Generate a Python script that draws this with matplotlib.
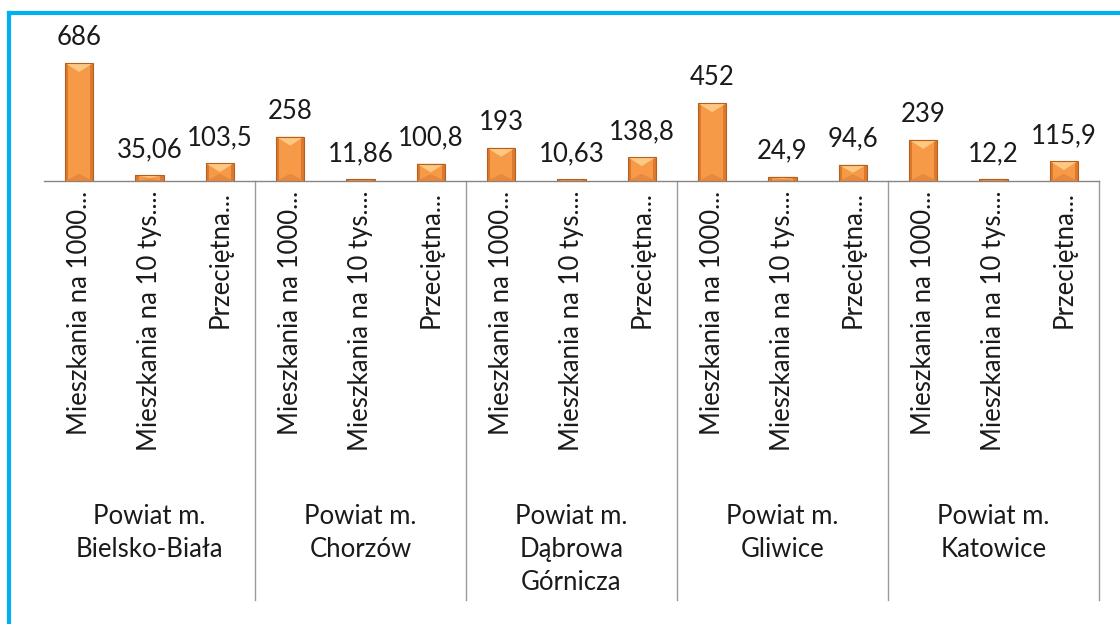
import matplotlib.pyplot as plt
import numpy as np
from matplotlib.patches import Polygon, Rectangle
from matplotlib.transforms import blended_transform_factory

plt.rcParams['font.family'] = ['Lato', 'DejaVu Sans']

groups = ['Powiat m.\nBielsko-Biała', 'Powiat m.\nChorzów', 'Powiat m.\nDąbrowa\nGórnicza',
          'Powiat m.\nGliwice', 'Powiat m.\nKatowice']
categories = ['Mieszkania na 1000...', 'Mieszkania na 10 tys....', 'Przeciętna...']
values = [686, 35.06, 103.5,
          258, 11.86, 100.8,
          193, 10.63, 138.8,
          452, 24.9, 94.6,
          239, 12.2, 115.9]
value_labels = ['686', '35,06', '103,5',
                '258', '11,86', '100,8',
                '193', '10,63', '138,8',
                '452', '24,9', '94,6',
                '239', '12,2', '115,9']

W, H = 1120, 624
fig = plt.figure(figsize=(W / 100, H / 100), dpi=100)
# plot area in pixels: x 44..1099, baseline at y=181, top at y=20
ax = fig.add_axes([44 / W, (H - 181) / H, 1055 / W, 161 / H])

n = len(values)
x = np.arange(n)
ymax = 936
ax.set_xlim(-0.5, n - 0.5)
ax.set_ylim(0, ymax)
px = ymax / 161.0  # data units per pixel

bw = 0.4
for xi, v in zip(x, values):
    l, r = xi - bw / 2, xi + bw / 2
    sw = bw * 0.12
    d = min(9 * px, v * 0.5)
    ax.add_patch(Rectangle((l, 0), bw, v, facecolor='#F79A48', edgecolor='none', zorder=2))
    # shaded sides
    ax.add_patch(Rectangle((l, 0), sw, v, facecolor='#DB7A2E', edgecolor='none', zorder=3))
    ax.add_patch(Rectangle((r - sw, 0), sw, v, facecolor='#DB7A2E', edgecolor='none', zorder=3))
    # top bevel
    ax.add_patch(Polygon([(l, v), (r, v), (xi, v - d)],
                         closed=True, facecolor='#FDC882', edgecolor='none', zorder=4))
    # bottom bevel
    ax.add_patch(Polygon([(l, 0), (r, 0), (xi, d * 0.8)],
                         closed=True, facecolor='#E9873A', edgecolor='none', zorder=4))
    ax.add_patch(Rectangle((l, 0), bw, v, facecolor='none', edgecolor='#B5601E', lw=0.8, zorder=5))

for xi, v, lab in zip(x, values, value_labels):
    ax.annotate(lab, (xi, v), xytext=(0, 13), textcoords='offset points',
                ha='center', va='baseline', fontsize=18.5, color='#1a1a1a')

ax.set_xticks(x)
ax.set_xticklabels(categories * len(groups), rotation=90, fontsize=18.5, color='#1a1a1a')
ax.tick_params(axis='x', length=0, pad=7)
ax.set_yticks([])
for s in ['top', 'right', 'left']:
    ax.spines[s].set_visible(False)
ax.spines['bottom'].set_color('#868686')
ax.spines['bottom'].set_linewidth(1.0)

trans = blended_transform_factory(ax.transData, ax.transAxes)
y_end = (181 - 600) / 161.0
y_grp = (181 - 504) / 161.0
for g in range(len(groups)):
    right = 3 * g + 2.5
    ax.plot([right, right], [0, y_end], transform=trans, color='#9a9a9a', lw=1.0, clip_on=False)
    ax.text(3 * g + 1, y_grp, groups[g], transform=trans, ha='center', va='top',
            fontsize=18.5, linespacing=1.4, color='#1a1a1a')

# cyan frame (left and top edges)
fig.add_artist(plt.Line2D([9 / W, 9 / W], [0, (H - 13) / H], color='#00B0F0', lw=3, transform=fig.transFigure))
fig.add_artist(plt.Line2D([9 / W, 1], [(H - 13) / H, (H - 13) / H], color='#00B0F0', lw=3, transform=fig.transFigure))

fig.savefig('out.png', dpi=100)
